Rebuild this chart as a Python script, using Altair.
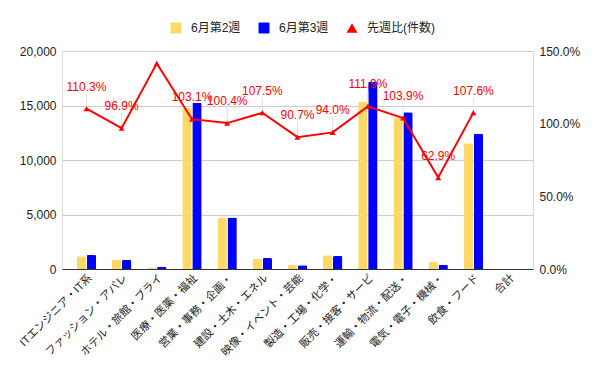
import altair as alt
import pandas as pd

categories = [
    "ITエンジニア・IT系", "ファッション・アパレ", "ホテル・旅館・ブライ", "医療・医薬・福祉",
    "営業・事務・企画・", "建設・土木・エネル", "映像・イベント・芸能", "製造・工場・化学・",
    "販売・接客・サービ", "運輸・物流・配送・", "電気・電子・機械・", "飲食・フード", "合計",
]
week2 = [1170, 850, 130, 14800, 4700, 940, 370, 1270, 15350, 13850, 640, 11530, None]
week3 = [1290, 820, 184, 15260, 4720, 1010, 335, 1195, 17180, 14390, 400, 12400, None]
ratio = [1.103, 0.969, 1.415, 1.031, 1.004, 1.075, 0.907, 0.940, 1.119, 1.039, 0.629, 1.076, None]
ratio_labels = ["110.3%", "96.9%", "", "103.1%", "100.4%", "107.5%", "90.7%", "94.0%",
                "111.9%", "103.9%", "62.9%", "107.6%", ""]
series_names = ["6月第2週", "6月第3週", "先週比(件数)"]
colors = ["#ffd966", "#0000ff", "#ff0000"]
shapes = ["square", "square", "triangle-up"]
left_ticks = [0, 5000, 10000, 15000, 20000]
right_ticks = [0, 0.5, 1.0, 1.5]

rows = []
for c, a, b in zip(categories, week2, week3):
    if a is not None:
        rows.append(dict(cat=c, series=series_names[0], value=a))
    if b is not None:
        rows.append(dict(cat=c, series=series_names[1], value=b))
bars_df = pd.DataFrame(rows)
line_df = pd.DataFrame([
    dict(cat=c, ratio=r, label=l, series=series_names[2])
    for c, r, l in zip(categories, ratio, ratio_labels) if r is not None
])
label_df = line_df[line_df["label"] != ""]

FONT = "'Liberation Sans', Arial, 'Noto Sans CJK JP', sans-serif"

x_enc = alt.X(
    "cat:N", sort=categories,
    scale=alt.Scale(domain=categories, paddingInner=0.45, paddingOuter=0.42),
    axis=alt.Axis(title=None, labelAngle=-45, labelAlign="right", labelBaseline="middle",
                  ticks=False, domainColor="#333333", labelFontSize=11, labelColor="#222222",
                  labelFont=FONT, labelPadding=7, labelOffset=4, labelLimit=200),
)

legend = alt.Legend(
    title=None, orient="none", legendX=108, legendY=-29, direction="horizontal",
    symbolSize=120, labelFontSize=12, labelFont=FONT, labelColor="#222222",
    columnPadding=17, symbolStrokeWidth=0, padding=0, labelOffset=9,
)
color_enc = alt.Color("series:N", scale=alt.Scale(domain=series_names, range=colors), legend=legend)
shape_enc = alt.Shape("series:N", scale=alt.Scale(domain=series_names, range=shapes), legend=legend)

bars = alt.Chart(bars_df).mark_bar(cornerRadiusTopLeft=1.5, cornerRadiusTopRight=1.5).encode(
    x=x_enc,
    xOffset=alt.XOffset("series:N", scale=alt.Scale(domain=series_names[:2], paddingInner=0.06)),
    y=alt.Y("value:Q", scale=alt.Scale(domain=[0, 20000]),
            axis=alt.Axis(title=None, values=left_ticks, format=",.0f", grid=True, domain=False,
                          ticks=False, gridColor="#cccccc", labelFontSize=12, labelFont=FONT,
                          labelColor="#222222", labelPadding=6)),
    color=color_enc,
)

y_right = alt.Y("ratio:Q", scale=alt.Scale(domain=[0, 1.5]),
                axis=alt.Axis(title=None, orient="right", values=right_ticks, format=".1%",
                              grid=False, domain=False, ticks=False, labelFontSize=12,
                              labelFont=FONT, labelColor="#222222", labelPadding=6))

leaders = alt.Chart(label_df).mark_rule(color="#e0e0e0", strokeWidth=1, yOffset=-15, y2Offset=-3).encode(
    x=x_enc, y=y_right, y2="ratio:Q",
)
line = alt.Chart(line_df).mark_line(color="#ff0000", strokeWidth=2).encode(x=x_enc, y=y_right)
pts = alt.Chart(line_df).mark_point(filled=True, size=35, opacity=1).encode(
    x=x_enc, y=y_right, color=color_enc, shape=shape_enc,
)
texts = alt.Chart(label_df).mark_text(dy=-22, color="#ff0000", fontSize=12, font=FONT).encode(
    x=x_enc, y=y_right, text="label:N",
)

right = alt.layer(leaders, line, pts, texts)

chart = alt.layer(bars, right).resolve_scale(y="independent").properties(
    width=471, height=218,
    autosize=alt.AutoSizeParams(type="none"),
    padding={"left": 54, "top": 43, "right": 52, "bottom": 94},
).configure_view(stroke=None).configure(font=FONT)

chart.save("out.html", embed_options={"renderer": "svg", "actions": False})
